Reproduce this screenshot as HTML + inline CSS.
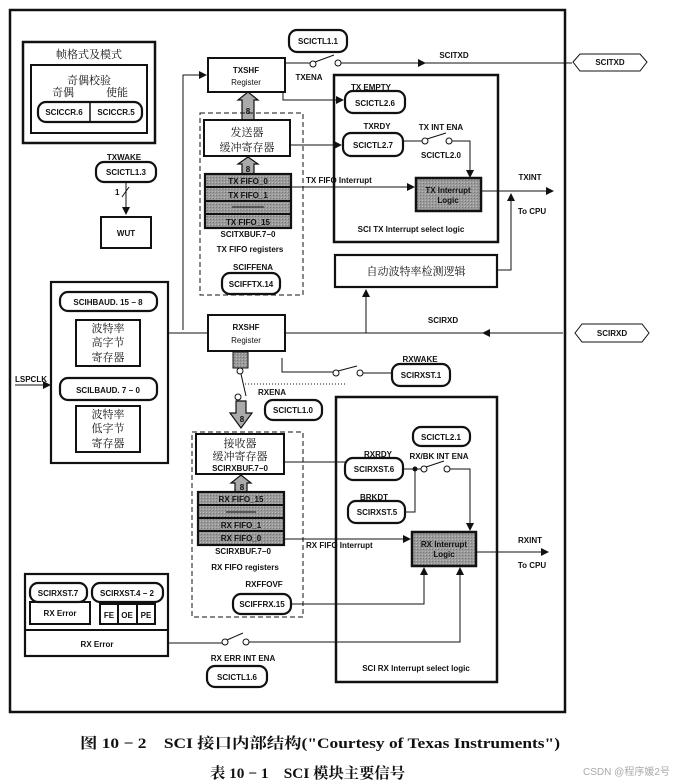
<!DOCTYPE html>
<html><head><meta charset="utf-8"><style>
html,body{margin:0;padding:0;background:#fff;width:692px;height:784px;overflow:hidden}
svg{display:block}
text{font-family:"Liberation Sans","Noto Sans CJK SC",sans-serif;font-size:8px;fill:#111}
.c{font-family:"Noto Serif CJK SC","Liberation Serif",serif;font-size:11px}
.m{text-anchor:middle}
.b{font-weight:bold}
</style></head><body>
<svg width="692" height="784" viewBox="0 0 692 784" xmlns="http://www.w3.org/2000/svg">
<defs>
<marker id="a" markerWidth="8" markerHeight="8" refX="7" refY="4" orient="auto" markerUnits="userSpaceOnUse"><path d="M0,0L8,4L0,8z" fill="#111"/></marker>
<pattern id="g" width="3" height="3" patternUnits="userSpaceOnUse"><rect width="3" height="3" fill="#9a9a9a"/><rect width="1" height="1" fill="#777"/><rect x="2" y="2" width="1" height="1" fill="#bbb"/></pattern>
</defs>
<g fill="none" stroke="#111">
<rect x="10" y="10" width="555" height="702" stroke-width="2.5"/>
<rect x="23" y="42" width="132" height="101" stroke-width="2.5"/>
<rect x="31" y="65" width="116" height="68" stroke-width="2"/>
<rect x="38" y="102" width="104" height="20" rx="8" stroke-width="2.2"/>
<line x1="90" y1="102" x2="90" y2="122" stroke-width="1.5"/>
<rect x="96" y="162" width="60" height="20" rx="8" stroke-width="2.2"/>
<line x1="126" y1="182" x2="126" y2="214" marker-end="url(#a)"/>
<line x1="122" y1="197" x2="129" y2="187"/>
<rect x="101" y="217" width="50" height="31" stroke-width="2"/>
<rect x="208" y="58" width="77" height="34" stroke-width="2"/>
<polyline points="183,330 183,75 206,75" marker-end="url(#a)"/>
<rect x="289" y="30" width="58" height="22" rx="8" stroke-width="2.2"/>
<line x1="285" y1="63" x2="310" y2="63"/>
<circle cx="313" cy="64" r="3"/><circle cx="338" cy="63" r="3"/>
<line x1="315" y1="62" x2="334" y2="55"/>
<line x1="341" y1="63" x2="572" y2="63"/>
<line x1="341" y1="63" x2="425" y2="63" marker-end="url(#a)"/>
<polygon points="573,62 580,54 640,54 647,62 640,71 580,71"/>
<polygon points="242,120 242,100 238,100 248,92 258,100 254,100 254,120" fill="#aaa" stroke-width="1.2"/>
<rect x="200" y="113" width="103" height="182" stroke-dasharray="5,3"/>
<rect x="204" y="120" width="86" height="36" stroke-width="2" fill="#fff"/>
<polygon points="242,175 242,164 238,164 248,157 258,164 254,164 254,175" fill="#aaa" stroke-width="1.2"/>
<rect x="205" y="174" width="86" height="54" fill="url(#g)" stroke-width="2.2"/>
<line x1="205" y1="187" x2="291" y2="187" stroke-width="2"/>
<line x1="205" y1="201" x2="291" y2="201" stroke-width="2"/>
<line x1="205" y1="214" x2="291" y2="214" stroke-width="2"/>
<line x1="232" y1="207" x2="264" y2="207"/>
<rect x="222" y="273" width="58" height="21" rx="8" stroke-width="2.2"/>
<rect x="334" y="75" width="164" height="167" stroke-width="2.5"/>
<polyline points="283,92 283,100 343,100" marker-end="url(#a)"/>
<rect x="345" y="91" width="60" height="22" rx="8" stroke-width="2.2"/>
<line x1="290" y1="145" x2="341" y2="145" marker-end="url(#a)"/>
<rect x="343" y="133" width="60" height="23" rx="8" stroke-width="2.2"/>
<line x1="403" y1="141" x2="422" y2="141"/>
<circle cx="425" cy="141" r="3"/><circle cx="449" cy="141" r="3"/>
<line x1="427" y1="139" x2="446" y2="133"/>
<polyline points="452,141 470,141 470,177" marker-end="url(#a)"/>
<line x1="291" y1="187" x2="414" y2="187" marker-end="url(#a)"/>
<rect x="416" y="178" width="65" height="33" fill="url(#g)" stroke-width="2.5"/>
<line x1="481" y1="191" x2="553" y2="191" marker-end="url(#a)"/>
<polyline points="497,270 511,270 511,194" marker-end="url(#a)"/>
<rect x="335" y="255" width="162" height="32" stroke-width="2.2"/>
<line x1="366" y1="333" x2="366" y2="290" marker-end="url(#a)"/>
<rect x="51" y="282" width="117" height="181" stroke-width="2.2"/>
<rect x="60" y="292" width="97" height="19" rx="8" stroke-width="2.2"/>
<rect x="76" y="320" width="64" height="46" stroke-width="2"/>
<rect x="60" y="378" width="97" height="22" rx="8" stroke-width="2.2"/>
<rect x="76" y="406" width="64" height="46" stroke-width="2"/>
<line x1="15" y1="385" x2="50" y2="385" marker-end="url(#a)"/>
<line x1="168" y1="333" x2="208" y2="333"/>
<rect x="208" y="315" width="77" height="36" stroke-width="2"/>
<line x1="563" y1="333" x2="285" y2="333"/>
<line x1="520" y1="333" x2="483" y2="333" marker-end="url(#a)"/>
<polygon points="575,333 582,324 642,324 649,333 642,342 582,342"/>
<rect x="233" y="352" width="15" height="16" fill="url(#g)"/>
<circle cx="240" cy="371" r="3"/><circle cx="238" cy="397" r="3"/>
<line x1="241" y1="374" x2="246" y2="396"/>
<polygon points="236,401 236,413 230,413 241,428 252,413 246,413 246,401" fill="#aaa" stroke-width="1.2"/>
<polyline points="282,358 282,372 333,372"/>
<circle cx="336" cy="373" r="3"/><circle cx="360" cy="373" r="3"/>
<line x1="338" y1="371" x2="357" y2="366"/>
<line x1="363" y1="373" x2="392" y2="373"/>
<line x1="245" y1="384" x2="345" y2="384" stroke-dasharray="1,2"/>
<rect x="392" y="364" width="58" height="22" rx="8" stroke-width="2.2"/>
<rect x="265" y="400" width="57" height="20" rx="8" stroke-width="2.2"/>
<rect x="192" y="432" width="111" height="185" stroke-dasharray="5,3"/>
<rect x="196" y="434" width="88" height="40" stroke-width="2" fill="#fff"/>
<polygon points="235,492 235,483 231,483 241,475 251,483 247,483 247,492" fill="#aaa" stroke-width="1.2"/>
<rect x="198" y="492" width="86" height="53" fill="url(#g)" stroke-width="2.2"/>
<line x1="198" y1="505" x2="284" y2="505" stroke-width="2"/>
<line x1="198" y1="518" x2="284" y2="518" stroke-width="2"/>
<line x1="198" y1="531" x2="284" y2="531" stroke-width="2"/>
<line x1="226" y1="512" x2="256" y2="512"/>
<rect x="233" y="594" width="58" height="20" rx="8" stroke-width="2.2"/>
<rect x="336" y="397" width="161" height="285" stroke-width="2.5"/>
<rect x="413" y="427" width="57" height="19" rx="8" stroke-width="2.2"/>
<line x1="284" y1="462" x2="345" y2="462"/>
<rect x="345" y="458" width="58" height="22" rx="8" stroke-width="2.2"/>
<line x1="403" y1="469" x2="421" y2="469"/>
<circle cx="415" cy="469" r="2" fill="#111"/>
<circle cx="424" cy="469" r="3"/><circle cx="447" cy="469" r="3"/>
<line x1="426" y1="467" x2="444" y2="461"/>
<polyline points="450,469 470,469 470,530" marker-end="url(#a)"/>
<rect x="348" y="501" width="57" height="22" rx="8" stroke-width="2.2"/>
<polyline points="405,512 415,512 415,469"/>
<line x1="284" y1="539" x2="410" y2="539" marker-end="url(#a)"/>
<rect x="412" y="532" width="64" height="34" fill="url(#g)" stroke-width="2.5"/>
<line x1="476" y1="552" x2="548" y2="552" marker-end="url(#a)"/>
<polyline points="291,604 424,604 424,568" marker-end="url(#a)"/>
<polyline points="168,643 222,643"/>
<circle cx="225" cy="642" r="3"/><circle cx="246" cy="642" r="3"/>
<line x1="227" y1="640" x2="243" y2="633"/>
<polyline points="249,642 460,642 460,568" marker-end="url(#a)"/>
<rect x="207" y="666" width="60" height="21" rx="8" stroke-width="2.2"/>
<rect x="25" y="574" width="143" height="82" stroke-width="2.2"/>
<line x1="25" y1="630" x2="168" y2="630" stroke-width="2"/>
<rect x="30" y="583" width="57" height="19" rx="8" stroke-width="2.2"/>
<rect x="30" y="602" width="60" height="22" stroke-width="2"/>
<rect x="92" y="583" width="71" height="19" rx="8" stroke-width="2.2"/>
<rect x="100" y="604" width="55" height="20" stroke-width="2"/>
<line x1="118" y1="604" x2="118" y2="624" stroke-width="2"/>
<line x1="137" y1="604" x2="137" y2="624" stroke-width="2"/>
</g>
<g>
<text class="c m" x="89" y="58">帧格式及模式</text>
<text class="c m" x="89" y="84">奇偶校验</text>
<text class="c" x="52" y="96">奇偶</text><text class="c" x="106" y="96">使能</text>
<text class="m b" x="64" y="115">SCICCR.6</text><text class="m b" x="116" y="115">SCICCR.5</text>
<text class="m b" x="124" y="160">TXWAKE</text>
<text class="m b" x="126" y="175">SCICTL1.3</text>
<text class="b" x="115" y="195">1</text>
<text class="m b" x="126" y="236">WUT</text>
<text class="m b" x="246" y="73">TXSHF</text><text class="m" x="246" y="85">Register</text>
<text class="m b" x="318" y="44">SCICTL1.1</text>
<text class="m b" x="309" y="80">TXENA</text>
<text class="m b" x="454" y="58">SCITXD</text>
<text class="m b" x="610" y="65">SCITXD</text>
<text class="m b" x="248" y="114">8</text>
<text class="c m" x="247" y="136">发送器</text>
<text class="c m" x="247" y="151">缓冲寄存器</text>
<text class="m b" x="248" y="172">8</text>
<text class="m b" x="248" y="184">TX FIFO_0</text>
<text class="m b" x="248" y="198">TX FIFO_1</text>
<text class="m b" x="248" y="225">TX FIFO_15</text>
<text class="m b" x="248" y="237">SCITXBUF.7−0</text>
<text class="m b" x="250" y="252">TX FIFO registers</text>
<text class="m b" x="253" y="270">SCIFFENA</text>
<text class="m b" x="251" y="287">SCIFFTX.14</text>
<text class="b" x="306" y="183">TX FIFO Interrupt</text>
<text class="m b" x="371" y="90">TX EMPTY</text>
<text class="m b" x="375" y="106">SCICTL2.6</text>
<text class="m b" x="377" y="129">TXRDY</text>
<text class="m b" x="373" y="148">SCICTL2.7</text>
<text class="m b" x="441" y="130">TX INT ENA</text>
<text class="m b" x="441" y="158">SCICTL2.0</text>
<text class="m b" x="448" y="193">TX Interrupt</text><text class="m b" x="448" y="203">Logic</text>
<text class="m b" x="530" y="180">TXINT</text>
<text class="m b" x="532" y="214">To CPU</text>
<text class="m b" x="411" y="232">SCI TX Interrupt select logic</text>
<text class="c m" x="416" y="275">自动波特率检测逻辑</text>
<text class="m b" x="108" y="305">SCIHBAUD. 15 − 8</text>
<text class="c m" x="108" y="332">波特率</text><text class="c m" x="108" y="346">高字节</text><text class="c m" x="108" y="361">寄存器</text>
<text class="b" x="15" y="382">LSPCLK</text>
<text class="m b" x="108" y="393">SCILBAUD. 7 − 0</text>
<text class="c m" x="108" y="418">波特率</text><text class="c m" x="108" y="432">低字节</text><text class="c m" x="108" y="447">寄存器</text>
<text class="m b" x="246" y="330">RXSHF</text><text class="m" x="246" y="343">Register</text>
<text class="m b" x="443" y="323">SCIRXD</text>
<text class="m b" x="612" y="336">SCIRXD</text>
<text class="m b" x="420" y="362">RXWAKE</text>
<text class="m b" x="421" y="378">SCIRXST.1</text>
<text class="m b" x="272" y="395">RXENA</text>
<text class="m b" x="293" y="413">SCICTL1.0</text>
<text class="m b" x="242" y="422">8</text>
<text class="c m" x="240" y="447">接收器</text>
<text class="c m" x="240" y="460">缓冲寄存器</text>
<text class="m b" x="240" y="471">SCIRXBUF.7−0</text>
<text class="m b" x="242" y="490">8</text>
<text class="m b" x="241" y="502">RX FIFO_15</text>
<text class="m b" x="241" y="528">RX FIFO_1</text>
<text class="m b" x="241" y="541">RX FIFO_0</text>
<text class="m b" x="243" y="554">SCIRXBUF.7−0</text>
<text class="m b" x="245" y="570">RX FIFO registers</text>
<text class="m b" x="264" y="587">RXFFOVF</text>
<text class="m b" x="262" y="607">SCIFFRX.15</text>
<text class="b" x="306" y="548">RX FIFO Interrupt</text>
<text class="m b" x="441" y="440">SCICTL2.1</text>
<text class="m b" x="439" y="459">RX/BK INT ENA</text>
<text class="m b" x="378" y="457">RXRDY</text>
<text class="m b" x="374" y="472">SCIRXST.6</text>
<text class="m b" x="374" y="500">BRKDT</text>
<text class="m b" x="377" y="515">SCIRXST.5</text>
<text class="m b" x="444" y="547">RX Interrupt</text><text class="m b" x="444" y="557">Logic</text>
<text class="m b" x="530" y="543">RXINT</text>
<text class="m b" x="532" y="568">To CPU</text>
<text class="m b" x="416" y="671">SCI RX Interrupt select logic</text>
<text class="m b" x="58" y="596">SCIRXST.7</text>
<text class="m b" x="60" y="616">RX Error</text>
<text class="m b" x="127" y="596">SCIRXST.4 − 2</text>
<text class="m b" x="109" y="618">FE</text><text class="m b" x="127" y="618">OE</text><text class="m b" x="146" y="618">PE</text>
<text class="m b" x="97" y="647">RX Error</text>
<text class="m b" x="243" y="661">RX ERR INT ENA</text>
<text class="m b" x="237" y="680">SCICTL1.6</text>
<text x="80" y="748" textLength="480" lengthAdjust="spacingAndGlyphs" style="font-family:'Liberation Serif','Noto Serif CJK SC',serif;font-size:15px;font-weight:bold">图 10 − 2　SCI 接口内部结构("Courtesy of Texas Instruments")</text>
<text x="210" y="778" textLength="195" lengthAdjust="spacingAndGlyphs" style="font-family:'Liberation Serif','Noto Serif CJK SC',serif;font-size:15px;font-weight:bold">表 10 − 1　SCI 模块主要信号</text>
<text x="583" y="775" textLength="87" lengthAdjust="spacingAndGlyphs" style="font-size:10px;fill:#aaa">CSDN @程序媛2号</text>
</g>
</svg>
</body></html>
